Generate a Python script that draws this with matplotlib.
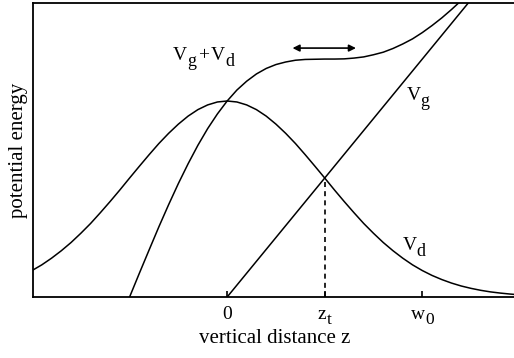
import matplotlib
matplotlib.use("Agg")
import matplotlib.pyplot as plt
from matplotlib.transforms import IdentityTransform

plt.rcParams['font.family'] = ['Liberation Serif', 'DejaVu Serif']

# z in units of z_t (w_0 = 2 z_t); potentials in units of the V_d peak
z_d = [-2.0, -1.9, -1.8, -1.7, -1.6, -1.5, -1.4, -1.3, -1.2, -1.1, -1.0,
       -0.9, -0.8, -0.7, -0.6, -0.5, -0.4, -0.3, -0.2, -0.1, 0.0,
       0.1, 0.2, 0.3, 0.4, 0.5, 0.6, 0.7, 0.8, 0.9, 1.0,
       1.1, 1.2, 1.3, 1.4, 1.5, 1.6, 1.7, 1.8, 1.9, 2.0,
       2.1, 2.2, 2.3, 2.4, 2.5, 2.6, 2.7, 2.8, 2.9, 3.0]
V_d = [0.135, 0.164, 0.198, 0.236, 0.278, 0.325, 0.375, 0.430, 0.487, 0.546, 0.607,
       0.667, 0.726, 0.783, 0.835, 0.882, 0.923, 0.956, 0.980, 0.995, 1.000,
       0.995, 0.980, 0.956, 0.923, 0.882, 0.835, 0.783, 0.726, 0.667, 0.607,
       0.546, 0.487, 0.430, 0.375, 0.325, 0.278, 0.236, 0.198, 0.164, 0.135,
       0.110, 0.089, 0.071, 0.056, 0.044, 0.034, 0.026, 0.020, 0.015, 0.011]

z_g = [0.0, 3.0]
V_g = [0.0, 1.821]

z_s = [-1.0, -0.9, -0.8, -0.7, -0.6, -0.5, -0.4, -0.3, -0.2, -0.1, 0.0,
       0.1, 0.2, 0.3, 0.4, 0.5, 0.6, 0.7, 0.8, 0.9, 1.0,
       1.1, 1.2, 1.3, 1.4, 1.5, 1.6, 1.7, 1.8, 1.9, 2.0,
       2.1, 2.2, 2.3, 2.4, 2.5, 2.6]
V_s = [0.000, 0.121, 0.240, 0.358, 0.471, 0.579, 0.680, 0.774, 0.859, 0.934, 1.000,
       1.056, 1.101, 1.138, 1.166, 1.186, 1.199, 1.208, 1.212, 1.213, 1.214,
       1.214, 1.215, 1.219, 1.225, 1.236, 1.249, 1.268, 1.291, 1.317, 1.349,
       1.385, 1.424, 1.467, 1.513, 1.562, 1.612]

z_t = 1.0
V_cross = 0.607
arrow_z = [0.67, 1.32]
arrow_V = 1.27

tick_pos = [0.0, 1.0, 2.0]
tick_main = ['0', 'z', 'w']
tick_sub = ['', 't', '0']

W, H = 514, 358
fig = plt.figure(figsize=(W / 100, H / 100), dpi=100)
ax = fig.add_axes([33 / W, 61 / H, 481 / W, 294 / H])

lw = 1.1
ax.plot(z_d, V_d, color='black', lw=lw)
ax.plot(z_g, V_g, color='black', lw=lw)
ax.plot(z_s, V_s, color='black', lw=lw)
ax.plot([z_t, z_t], [0, V_cross], color='black', lw=1.2, ls=(0, (3, 2.5)))

ax.annotate('', xy=(arrow_z[1], arrow_V), xytext=(arrow_z[0], arrow_V),
            arrowprops=dict(arrowstyle='<|-|>', color='black', lw=1.2,
                            mutation_scale=10, shrinkA=0, shrinkB=0))

ax.set_xlim(-1.99, 2.94)
ax.set_ylim(0, 1.5)
ax.set_xticks(tick_pos)
ax.set_xticklabels(['' for _ in tick_pos])
ax.set_yticks([])
ax.tick_params(axis='x', direction='in', length=4, width=1.2)
ax.spines['right'].set_visible(False)
for s in ['left', 'top', 'bottom']:
    ax.spines[s].set_linewidth(1.3)

ax.set_xlabel('vertical distance z', fontsize=15)
ax.xaxis.set_label_coords(0.503, -0.11)
ax.set_ylabel('potential energy', fontsize=15)
ax.yaxis.set_label_coords(-0.011, 0.5)

renderer = fig.canvas.get_renderer()


def compound(parts, x0, y0, ha='left'):
    """parts: list of (text, fontsize, dy_px, gap_px); x0,y0 display px, baseline."""
    texts = []
    x = x0
    for s, fs, dy, gap in parts:
        if not s:
            continue
        x += gap
        t = fig.text(x, y0 + dy, s, fontsize=fs, transform=IdentityTransform(),
                     ha='left', va='baseline')
        x = t.get_window_extent(renderer).x1
        texts.append(t)
    if ha == 'center':
        shift = (x - x0) / 2
        for t in texts:
            px, py = t.get_position()
            t.set_position((px - shift, py))


def data_px(xv, yv):
    return ax.transData.transform((xv, yv))


# tick labels
for pos, m, sb in zip(tick_pos, tick_main, tick_sub):
    px, _ = data_px(pos, 0)
    compound([(m, 14, 0, 0), (sb, 12.5, -5, 0)], px, H - 319, ha='center')

# curve labels
x, y = data_px(-0.554, 1.209)
compound([('V', 14, 0, 0), ('g', 13, -6, 0), ('+', 14, 0, 2), ('V', 14, 0, 2),
          ('d', 13, -6, 0)], x, y)
x, y = data_px(1.836, 1.005)
compound([('V', 14, 0, 0), ('g', 13, -6, 0)], x, y)
x, y = data_px(1.795, 0.24)
compound([('V', 14, 0, 0), ('d', 13, -6, 0)], x, y)

fig.savefig('out.png', dpi=100)
